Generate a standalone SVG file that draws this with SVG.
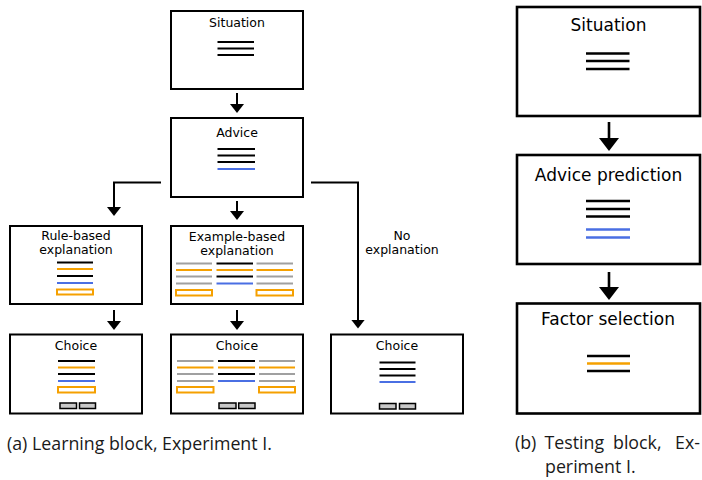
<svg xmlns="http://www.w3.org/2000/svg" width="702" height="480" viewBox="0 0 702 480">
<style>
.box{fill:#fff;stroke:#000;stroke-width:2}
.boxb{fill:#fff;stroke:#000;stroke-width:2.6}
.t{font-family:"DejaVu Sans",Verdana,sans-serif;font-size:12.5px;text-anchor:middle;fill:#000}
.tb{font-family:"DejaVu Sans",Verdana,sans-serif;font-size:17px;text-anchor:middle;fill:#000}
.cap{font-family:"Open Sans",sans-serif;font-size:17.8px;fill:#1a1a1a}
.k{stroke:#000;stroke-width:2}
.o{stroke:#f5a000;stroke-width:2}
.b{stroke:#4a6fe3;stroke-width:2}
.g{stroke:#a0a0a0;stroke-width:2}
.kb{stroke:#000;stroke-width:2.6}
.ob{stroke:#f5a000;stroke-width:2.6}
.bb{stroke:#4a6fe3;stroke-width:2.6}
.orect{fill:#fff;stroke:#f5a000;stroke-width:2}
.btn{fill:#c8c8c8;stroke:#000;stroke-width:1.5}
.conn{fill:none;stroke:#000;stroke-width:2}
.connb{fill:none;stroke:#000;stroke-width:2.6}
</style>
<defs>
<marker id="ah" markerUnits="userSpaceOnUse" viewBox="0 0 9 14" markerWidth="9" markerHeight="14" refX="1" refY="7" orient="auto">
<path d="M0,0 L9,7 L0,14 z" fill="#000"/>
</marker>
<marker id="ahb" markerUnits="userSpaceOnUse" viewBox="0 0 13 20" markerWidth="13" markerHeight="20" refX="1" refY="10" orient="auto">
<path d="M0,0 L13,10 L0,20 z" fill="#000"/>
</marker>
</defs>

<g id="connectors">
<path class="conn" d="M237,93 V105" marker-end="url(#ah)"/>
<path class="conn" d="M161,182.5 H114 V208" marker-end="url(#ah)"/>
<path class="conn" d="M237,201 V212" marker-end="url(#ah)"/>
<path class="conn" d="M311,182.5 H358 V320.5" marker-end="url(#ah)"/>
<path class="conn" d="M114,310 V322" marker-end="url(#ah)"/>
<path class="conn" d="M237,310 V322" marker-end="url(#ah)"/>
<path class="connb" d="M609,122 V139" marker-end="url(#ahb)"/>
<path class="connb" d="M609,272 V288" marker-end="url(#ahb)"/>
</g>

<g id="situation-a">
<rect class="box" x="171" y="11" width="132" height="78"/>
<text class="t" x="237" y="27">Situation</text>
<line class="k" x1="217.5" y1="42" x2="254" y2="42"/>
<line class="k" x1="217.5" y1="48.5" x2="254" y2="48.5"/>
<line class="k" x1="217.5" y1="55" x2="254" y2="55"/>
</g>

<g id="advice-a">
<rect class="box" x="171" y="118" width="132" height="79"/>
<text class="t" x="237" y="136.5">Advice</text>
<line class="k" x1="217.5" y1="149" x2="255" y2="149"/>
<line class="k" x1="217.5" y1="155.5" x2="255" y2="155.5"/>
<line class="k" x1="217.5" y1="162" x2="255" y2="162"/>
<line class="b" x1="217.5" y1="169" x2="255" y2="169"/>
</g>

<g id="rule-based">
<rect class="box" x="10" y="226" width="132" height="78"/>
<text class="t" x="76" y="240">Rule-based</text>
<text class="t" x="76" y="254">explanation</text>
<line class="k" x1="57" y1="262.5" x2="93" y2="262.5"/>
<line class="o" x1="57" y1="269" x2="93" y2="269"/>
<line class="k" x1="57" y1="276" x2="93" y2="276"/>
<line class="b" x1="57" y1="283" x2="93" y2="283"/>
<rect class="orect" x="57" y="289.5" width="36" height="5"/>
</g>

<g id="example-based">
<rect class="box" x="171" y="226" width="132" height="78"/>
<text class="t" x="237" y="240.5">Example-based</text>
<text class="t" x="237" y="255">explanation</text>
<line class="g" x1="176" y1="263.5" x2="212" y2="263.5"/>
<line class="o" x1="176" y1="270" x2="212" y2="270"/>
<line class="g" x1="176" y1="276.5" x2="212" y2="276.5"/>
<line class="g" x1="176" y1="283.5" x2="212" y2="283.5"/>
<rect class="orect" x="176" y="290" width="36" height="5.5"/>
<line class="k" x1="216.5" y1="263.5" x2="253" y2="263.5"/>
<line class="o" x1="216.5" y1="270" x2="253" y2="270"/>
<line class="k" x1="216.5" y1="276.5" x2="253" y2="276.5"/>
<line class="b" x1="216.5" y1="283.5" x2="253" y2="283.5"/>
<line class="g" x1="256.5" y1="263.5" x2="293" y2="263.5"/>
<line class="o" x1="256.5" y1="270" x2="293" y2="270"/>
<line class="g" x1="256.5" y1="276.5" x2="293" y2="276.5"/>
<line class="g" x1="256.5" y1="283.5" x2="293" y2="283.5"/>
<rect class="orect" x="256.5" y="290" width="36.5" height="5.5"/>
</g>

<g id="no-explanation">
<text class="t" x="402" y="240">No</text>
<text class="t" x="402" y="254">explanation</text>
</g>

<g id="choice-rule">
<rect class="box" x="10" y="334.5" width="132" height="79"/>
<text class="t" x="76" y="350">Choice</text>
<line class="k" x1="58" y1="361" x2="95" y2="361"/>
<line class="o" x1="58" y1="367.5" x2="95" y2="367.5"/>
<line class="k" x1="58" y1="374" x2="95" y2="374"/>
<line class="b" x1="58" y1="381" x2="95" y2="381"/>
<rect class="orect" x="58" y="387" width="37" height="5.5"/>
<rect class="btn" x="60" y="403" width="16.5" height="5.5"/>
<rect class="btn" x="79.5" y="403" width="16" height="5.5"/>
</g>

<g id="choice-example">
<rect class="box" x="171" y="334.5" width="132" height="79"/>
<text class="t" x="237" y="350">Choice</text>
<line class="g" x1="177" y1="361" x2="213.5" y2="361"/>
<line class="o" x1="177" y1="367.5" x2="213.5" y2="367.5"/>
<line class="g" x1="177" y1="374" x2="213.5" y2="374"/>
<line class="g" x1="177" y1="381" x2="213.5" y2="381"/>
<rect class="orect" x="177" y="387" width="36.5" height="5.5"/>
<line class="k" x1="218" y1="361" x2="255" y2="361"/>
<line class="o" x1="218" y1="367.5" x2="255" y2="367.5"/>
<line class="k" x1="218" y1="374" x2="255" y2="374"/>
<line class="b" x1="218" y1="381" x2="255" y2="381"/>
<line class="g" x1="259" y1="361" x2="295" y2="361"/>
<line class="o" x1="259" y1="367.5" x2="295" y2="367.5"/>
<line class="g" x1="259" y1="374" x2="295" y2="374"/>
<line class="g" x1="259" y1="381" x2="295" y2="381"/>
<rect class="orect" x="259" y="387" width="36" height="5.5"/>
<rect class="btn" x="219" y="403" width="17" height="5.5"/>
<rect class="btn" x="238.7" y="403" width="16.3" height="5.5"/>
</g>

<g id="choice-none">
<rect class="box" x="331" y="334.5" width="132" height="79"/>
<text class="t" x="397" y="350">Choice</text>
<line class="k" x1="379.5" y1="362.5" x2="415.5" y2="362.5"/>
<line class="k" x1="379.5" y1="369" x2="415.5" y2="369"/>
<line class="k" x1="379.5" y1="375.5" x2="415.5" y2="375.5"/>
<line class="b" x1="379.5" y1="382" x2="415.5" y2="382"/>
<rect class="btn" x="379.5" y="403.5" width="16.5" height="5.5"/>
<rect class="btn" x="399.5" y="403.5" width="16" height="5.5"/>
</g>

<g id="situation-b">
<rect class="boxb" x="517" y="7" width="183" height="109"/>
<text class="tb" x="608.5" y="30.5">Situation</text>
<line class="kb" x1="586" y1="53.5" x2="629.5" y2="53.5"/>
<line class="kb" x1="586" y1="61" x2="629.5" y2="61"/>
<line class="kb" x1="586" y1="69" x2="629.5" y2="69"/>
</g>

<g id="advice-prediction">
<rect class="boxb" x="517" y="155" width="183" height="109"/>
<text class="tb" x="608.5" y="181">Advice prediction</text>
<line class="kb" x1="586" y1="201" x2="630" y2="201"/>
<line class="kb" x1="586" y1="209" x2="630" y2="209"/>
<line class="kb" x1="586" y1="216.5" x2="630" y2="216.5"/>
<line class="bb" x1="586" y1="229.5" x2="630" y2="229.5"/>
<line class="bb" x1="586" y1="237.5" x2="630" y2="237.5"/>
</g>

<g id="factor-selection">
<rect class="boxb" x="517" y="303.5" width="183" height="110"/>
<text class="tb" x="608" y="325">Factor selection</text>
<line class="kb" x1="587" y1="356" x2="630" y2="356"/>
<line class="ob" x1="587" y1="363.5" x2="630" y2="363.5"/>
<line class="kb" x1="587" y1="371" x2="630" y2="371"/>
</g>

<g id="captions">
<text class="cap" x="7" y="449.5">(a) Learning block, Experiment I.</text>
<text class="cap" x="515" y="448.5">(b)</text>
<text class="cap" x="544.5" y="448.5">Testing</text>
<text class="cap" x="613" y="448.5">block,</text>
<text class="cap" x="700" y="448.5" text-anchor="end">Ex-</text>
<text class="cap" x="545" y="472.5">periment I.</text>
</g>
</svg>
